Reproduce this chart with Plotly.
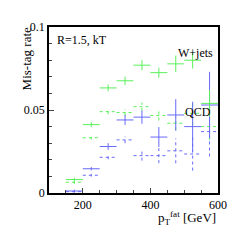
import plotly.graph_objects as go

bin_centers = [175, 225, 275, 325, 375, 425, 475, 525, 575]
half_width = 25

wjets_solid = [0.0081, 0.0412, 0.0633, 0.0676, 0.0770, 0.0725, 0.0778, 0.0800, 0.0540]
wjets_solid_err = [0.001, 0.0015, 0.002, 0.0025, 0.003, 0.003, 0.005, 0.005, 0.008]
wjets_dotted = [0.0065, 0.0333, 0.0490, 0.0485, 0.0520, 0.0467, 0.0420, 0.0480, 0.0400]
wjets_dotted_err = [0.001, 0.0012, 0.0015, 0.002, 0.0025, 0.003, 0.004, 0.007, 0.008]
qcd_solid = [0.0012, 0.0146, 0.0280, 0.0440, 0.0457, 0.0337, 0.0470, 0.0400, 0.0530]
qcd_solid_err = [0.0008, 0.001, 0.002, 0.003, 0.004, 0.006, 0.0095, 0.015, 0.02]
qcd_dotted = [0.0008, 0.0107, 0.0215, 0.0320, 0.0225, 0.0225, 0.0254, 0.0235, 0.0370]
qcd_dotted_err = [0.0005, 0.0008, 0.0012, 0.002, 0.003, 0.0045, 0.0075, 0.010, 0.015]

GREEN = "rgb(90,240,90)"
BLUE = "rgb(105,105,250)"


def crosses(centers, vals, errs):
    xs, ys = [], []
    for c, v, e in zip(centers, vals, errs):
        xs += [c - half_width, c + half_width, None, c, c, None]
        ys += [v, v, None, v - e, v + e, None]
    return xs, ys


fig = go.Figure()
for vals, errs, color, dash in [
    (qcd_dotted, qcd_dotted_err, BLUE, "dot"),
    (wjets_dotted, wjets_dotted_err, GREEN, "dot"),
    (qcd_solid, qcd_solid_err, BLUE, "solid"),
    (wjets_solid, wjets_solid_err, GREEN, "solid"),
]:
    xs, ys = crosses(bin_centers, vals, errs)
    fig.add_trace(go.Scatter(x=xs, y=ys, mode="lines",
                             line=dict(color=color, width=1, dash=dash),
                             hoverinfo="skip", showlegend=False))

font = "Liberation Serif, Times New Roman, serif"
fig.update_layout(
    width=234, height=234,
    margin=dict(l=41, r=24, t=16, b=49),
    paper_bgcolor="white", plot_bgcolor="white",
    font=dict(family=font, size=12, color="black"),
    showlegend=False,
    xaxis=dict(range=[100, 600], tickvals=[200, 400, 600], ticks="inside", ticklen=5,
               showgrid=False, zeroline=False, showline=True, linecolor="black",
               linewidth=1.5, mirror=True, tickfont=dict(size=12, family=font),
               minor=dict(tickvals=[150, 250, 300, 350, 450, 500, 550], ticks="inside", ticklen=3)),
    yaxis=dict(range=[0, 0.1], tickvals=[0, 0.05, 0.1], ticktext=["0", "0.05", "0.1"],
               ticks="inside", ticklen=5,
               showgrid=False, zeroline=False, showline=True, linecolor="black",
               linewidth=1.5, mirror=True, tickfont=dict(size=12, family=font),
               minor=dict(tickvals=[0.01, 0.02, 0.03, 0.04, 0.06, 0.07, 0.08, 0.09],
                          ticks="inside", ticklen=3)),
    annotations=[
        dict(text="Mis-tag rate", x=-0.136, y=0.805, xref="paper", yref="paper",
             textangle=-90, showarrow=False, font=dict(size=13, family=font),
             xanchor="center", yanchor="middle"),
        dict(text="p<sub>T</sub><sup>fat</sup> [GeV]", x=1.0, y=-0.148, xref="paper", yref="paper",
             showarrow=False, font=dict(size=13, family=font), xanchor="right", yanchor="middle"),
        dict(text="R=1.5, kT", x=0.036, y=0.923, xref="paper", yref="paper",
             showarrow=False, font=dict(size=12, family=font), xanchor="left", yanchor="middle"),
        dict(text="W+jets", x=0.985, y=0.846, xref="paper", yref="paper",
             showarrow=False, font=dict(size=12, family=font), xanchor="right", yanchor="middle"),
        dict(text="QCD", x=0.79, y=0.488, xref="paper", yref="paper",
             showarrow=False, font=dict(size=12, family=font), xanchor="left", yanchor="middle"),
    ],
)
fig.write_html("out.html")
